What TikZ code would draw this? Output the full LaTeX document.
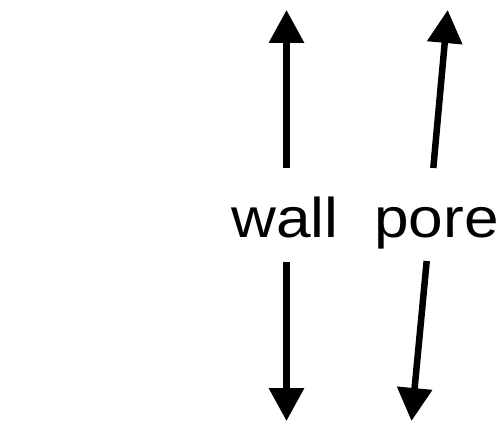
\documentclass[tikz,border=0pt]{standalone}
\usepackage{fontspec}
\setmainfont{Liberation Sans}
\newfontfamily\widesans[FakeStretch=1.11]{Liberation Sans}
\usetikzlibrary{arrows.meta}
\begin{document}
\begin{tikzpicture}[x=1pt,y=-1pt,
  lbl/.style={inner sep=0pt,anchor=base west,font=\widesans\fontsize{56}{60}\selectfont},
  arr/.style={line width=6.5pt,-{Triangle[length=33pt,width=34pt]}}]
\useasboundingbox (0,0) rectangle (502,422);
\node[lbl] (wall) at (231,237) {wall};
\node[lbl] (pore) at (374,237) {pore};
\coordinate (wu0) at (286.5,168);
\coordinate (wu1) at (286.5,10);
\coordinate (wd0) at (286.5,262);
\coordinate (wd1) at (286.5,421);
\coordinate (pu0) at (433.3,168);
\coordinate (pu1) at (447.7,10);
\coordinate (pd0) at (426.7,261);
\coordinate (pd1) at (411.5,421);
\draw[arr] (wu0) -- (wu1);
\draw[arr] (wd0) -- (wd1);
\draw[arr] (pu0) -- (pu1);
\draw[arr] (pd0) -- (pd1);
\end{tikzpicture}
\end{document}
